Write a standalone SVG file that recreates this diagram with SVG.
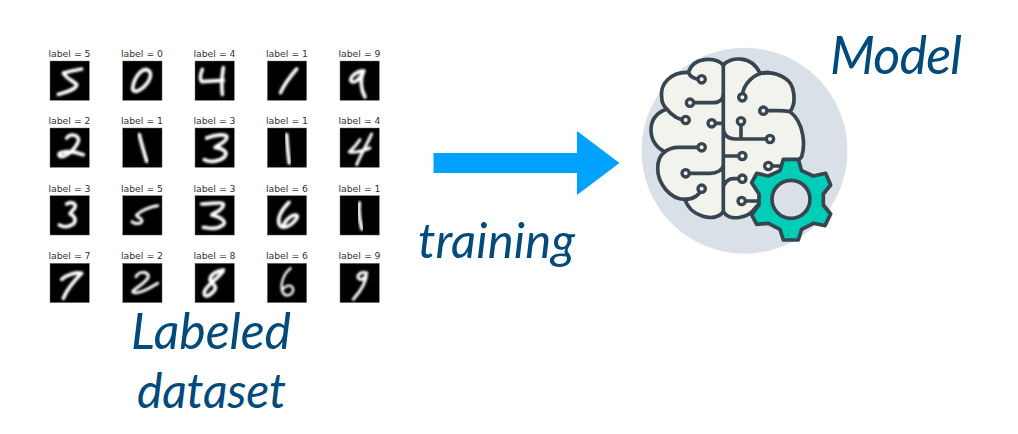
<svg xmlns="http://www.w3.org/2000/svg" width="1018" height="434" viewBox="0 0 1018 434">
<style>
.lb{font:9.3px "DejaVu Sans",sans-serif;fill:#333;text-anchor:middle}
.cap{font-family:Lato,"Open Sans",sans-serif;font-style:italic;fill:#004a7c}
.im{fill:#000;stroke:#777;stroke-width:1.5}
.dg{fill:none;stroke:#fff;stroke-width:11;stroke-linecap:round;stroke-linejoin:round;filter:url(#bl)}
.br{fill:none;stroke:#36454f;stroke-width:11;stroke-linecap:round;stroke-linejoin:round}
.nd{fill:#f3f3ee;stroke:#36454f;stroke-width:10}
</style>
<defs><filter id="bl" x="-30%" y="-30%" width="160%" height="160%"><feGaussianBlur stdDeviation="3.2"/></filter></defs>
<rect width="1018" height="434" fill="#fff"/>
<g id="dataset">
<g id="d1"><text class="lb" x="69.5" y="57">label = 5</text><g transform="translate(50,61) scale(.3333)"><rect class="im" width="118" height="118"/><path class="dg" d="M95 24L65 30L40 36C45 50 70 60 80 70C82 85 50 92 25 100"/></g></g>
<g id="d2"><text class="lb" x="142" y="57">label = 0</text><g transform="translate(122.7,61) scale(.3333)"><rect class="im" width="118" height="118"/><path class="dg" d="M72 25C50 25 30 60 30 85C35 100 60 85 75 65C90 40 85 22 60 28"/></g></g>
<g id="d3"><text class="lb" x="214.5" y="57">label = 4</text><g transform="translate(195,61) scale(.3333)"><rect class="im" width="118" height="118"/><path class="dg" d="M22 25C16 40 14 55 20 62L85 58M85 20C80 50 80 80 82 100"/></g></g>
<g id="d4"><text class="lb" x="287" y="57">label = 1</text><g transform="translate(267.3,61) scale(.3333)"><rect class="im" width="118" height="118"/><path class="dg" d="M88 24C70 45 50 70 40 95"/></g></g>
<g id="d5"><text class="lb" x="359.5" y="57">label = 9</text><g transform="translate(340,61) scale(.3333)"><rect class="im" width="118" height="118"/><path class="dg" d="M72 30C55 28 32 45 32 58C40 72 60 55 70 32C60 55 62 85 75 108"/></g></g>
<g id="d6"><text class="lb" x="69.5" y="124">label = 2</text><g transform="translate(50,128) scale(.3333)"><rect class="im" width="118" height="118"/><path class="dg" d="M50 30C60 15 90 20 85 40C75 65 45 90 30 85C15 70 60 65 100 80"/></g></g>
<g id="d7"><text class="lb" x="142" y="124">label = 1</text><g transform="translate(122.7,128) scale(.3333)"><rect class="im" width="118" height="118"/><path class="dg" d="M50 20C55 45 65 75 72 100"/></g></g>
<g id="d8"><text class="lb" x="214.5" y="124">label = 3</text><g transform="translate(195,128) scale(.3333)"><rect class="im" width="118" height="118"/><path class="dg" d="M35 30C60 20 100 15 95 30C90 45 70 50 60 58C80 60 100 70 90 85C75 100 45 105 28 95"/></g></g>
<g id="d9"><text class="lb" x="287" y="124">label = 1</text><g transform="translate(267.3,128) scale(.3333)"><rect class="im" width="118" height="118"/><path class="dg" d="M58 20C60 50 62 80 66 105"/></g></g>
<g id="d10"><text class="lb" x="359.5" y="124">label = 4</text><g transform="translate(340,128) scale(.3333)"><rect class="im" width="118" height="118"/><path class="dg" style="stroke-width:9" d="M60 35C50 50 42 60 28 72C45 75 65 70 90 60M95 18C80 50 60 85 50 110"/></g></g>
<g id="d11"><text class="lb" x="69.5" y="191.500">label = 3</text><g transform="translate(50,195.700) scale(.3333)"><rect class="im" width="118" height="118"/><path class="dg" d="M50 25C65 15 80 25 75 35C70 45 60 50 60 55C75 60 80 75 70 85C55 95 40 95 28 88"/></g></g>
<g id="d12"><text class="lb" x="142" y="191.500">label = 5</text><g transform="translate(122.7,195.700) scale(.3333)"><rect class="im" width="118" height="118"/><path class="dg" style="stroke-width:9" d="M105 30C85 32 55 45 45 55C35 60 50 65 55 70C65 80 45 90 28 78"/></g></g>
<g id="d13"><text class="lb" x="214.5" y="191.500">label = 3</text><g transform="translate(195,195.700) scale(.3333)"><rect class="im" width="118" height="118"/><path class="dg" d="M20 25C50 25 90 15 85 30C75 50 55 50 50 58C80 65 100 80 80 90C60 105 35 95 25 95"/></g></g>
<g id="d14"><text class="lb" x="287" y="191.500">label = 6</text><g transform="translate(267.3,195.700) scale(.3333)"><rect class="im" width="118" height="118"/><path class="dg" d="M65 20C45 40 30 65 35 85C45 105 75 90 90 65C90 50 65 60 50 85"/></g></g>
<g id="d15"><text class="lb" x="359.5" y="191.500">label = 1</text><g transform="translate(340,195.700) scale(.3333)"><rect class="im" width="118" height="118"/><path class="dg" d="M58 22C55 50 58 75 66 100"/></g></g>
<g id="d16"><text class="lb" x="69.5" y="259">label = 7</text><g transform="translate(50,263.300) scale(.3333)"><rect class="im" width="118" height="118"/><path class="dg" d="M35 48C50 35 80 25 95 30C75 50 50 80 40 105"/></g></g>
<g id="d17"><text class="lb" x="142" y="259">label = 2</text><g transform="translate(122.7,263.300) scale(.3333)"><rect class="im" width="118" height="118"/><path class="dg" style="stroke-width:9" d="M40 40C50 20 85 25 75 45C60 65 30 80 30 85C40 95 65 85 105 60"/></g></g>
<g id="d18"><text class="lb" x="214.5" y="259">label = 8</text><g transform="translate(195,263.300) scale(.3333)"><rect class="im" width="118" height="118"/><path class="dg" d="M85 20C60 25 45 35 45 50C55 65 70 70 55 85C40 100 25 105 28 85C35 65 70 45 85 22"/></g></g>
<g id="d19"><text class="lb" x="287" y="259">label = 6</text><g transform="translate(267.3,263.300) scale(.3333)"><rect class="im" width="118" height="118"/><path class="dg" style="stroke-width:7" d="M70 15C50 30 38 60 45 85C55 105 75 95 78 80C75 60 55 65 45 80"/></g></g>
<g id="d20"><text class="lb" x="359.5" y="259">label = 9</text><g transform="translate(340,263.300) scale(.3333)"><rect class="im" width="118" height="118"/><path class="dg" style="stroke-width:9" d="M80 30C65 22 50 35 55 45C65 55 80 40 80 28C80 55 60 85 40 108"/></g></g>
<text class="cap" x="131" y="349" font-size="50" textLength="160">Labeled</text>
<text class="cap" x="137" y="408" font-size="48" textLength="149">dataset</text>
</g>
<g id="connectors"><path d="M433.500 153H577V131L619.500 163L577 195V173H433.500Z" fill="#00a2ff"/></g>
<text class="cap" x="418" y="258" font-size="49" textLength="157">training</text>
<g id="model">
<circle cx="744.5" cy="150.700" r="103" fill="#dae0e7"/>
<g transform="translate(635,40) scale(.3333)">
<path d="M265 75C240 50 175 50 160 97C110 95 75 130 80 170C80 190 88 200 95 207C60 220 48 245 48 270C48 300 65 325 90 335C70 350 68 370 68 385C68 430 105 478 150 478C165 530 240 550 265 515C285 545 340 535 360 505L500 350C510 320 510 250 465 215C485 190 480 130 450 115C430 100 410 95 375 100C350 45 285 50 265 75Z" fill="#f3f3ee" stroke="#36454f" stroke-width="11" stroke-linejoin="round"/>
<path class="br" d="M265 75V515M160 97C165 110 180 118 200 118M165 188H235C255 188 265 175 265 160M95 207C110 225 130 240 152 240M230 250H265M200 322H130C115 322 100 327 90 335M152 400H225C245 400 265 390 265 375M200 446C195 465 175 478 150 478M322 172C322 130 360 97 400 97M385 212H430C445 212 455 213 465 215M318 244V297M405 297H300C280 297 265 285 265 265M322 348H265M400 378H440M322 416H295C280 416 265 430 265 445M320 483H375"/>
<g class="nd"><circle cx="200" cy="118" r="11"/><circle cx="165" cy="188" r="11"/><circle cx="152" cy="240" r="11"/><circle cx="230" cy="250" r="11"/><circle cx="200" cy="322" r="11"/><circle cx="152" cy="400" r="11"/><circle cx="200" cy="446" r="11"/><circle cx="322" cy="172" r="11"/><circle cx="385" cy="212" r="11"/><circle cx="318" cy="244" r="11"/><circle cx="405" cy="297" r="11"/><circle cx="322" cy="348" r="11"/><circle cx="400" cy="378" r="11"/><circle cx="322" cy="416" r="11"/><circle cx="320" cy="483" r="11"/></g>
<path d="M445 358H490L500 392L535 408L572 400L587 435L565 462V495L587 522L570 557L535 550L500 568L490 600H445L435 568L400 550L365 553L350 525L372 495V462L350 428L365 400L400 408L435 392Z" fill="#00cdb8" stroke="#36454f" stroke-width="11" stroke-linejoin="round"/>
<circle cx="468" cy="478" r="57" fill="#dae0e7" stroke="#36454f" stroke-width="11"/>
</g>
</g>
<text class="cap" x="830" y="74" font-size="52" textLength="132">Model</text>
</svg>
